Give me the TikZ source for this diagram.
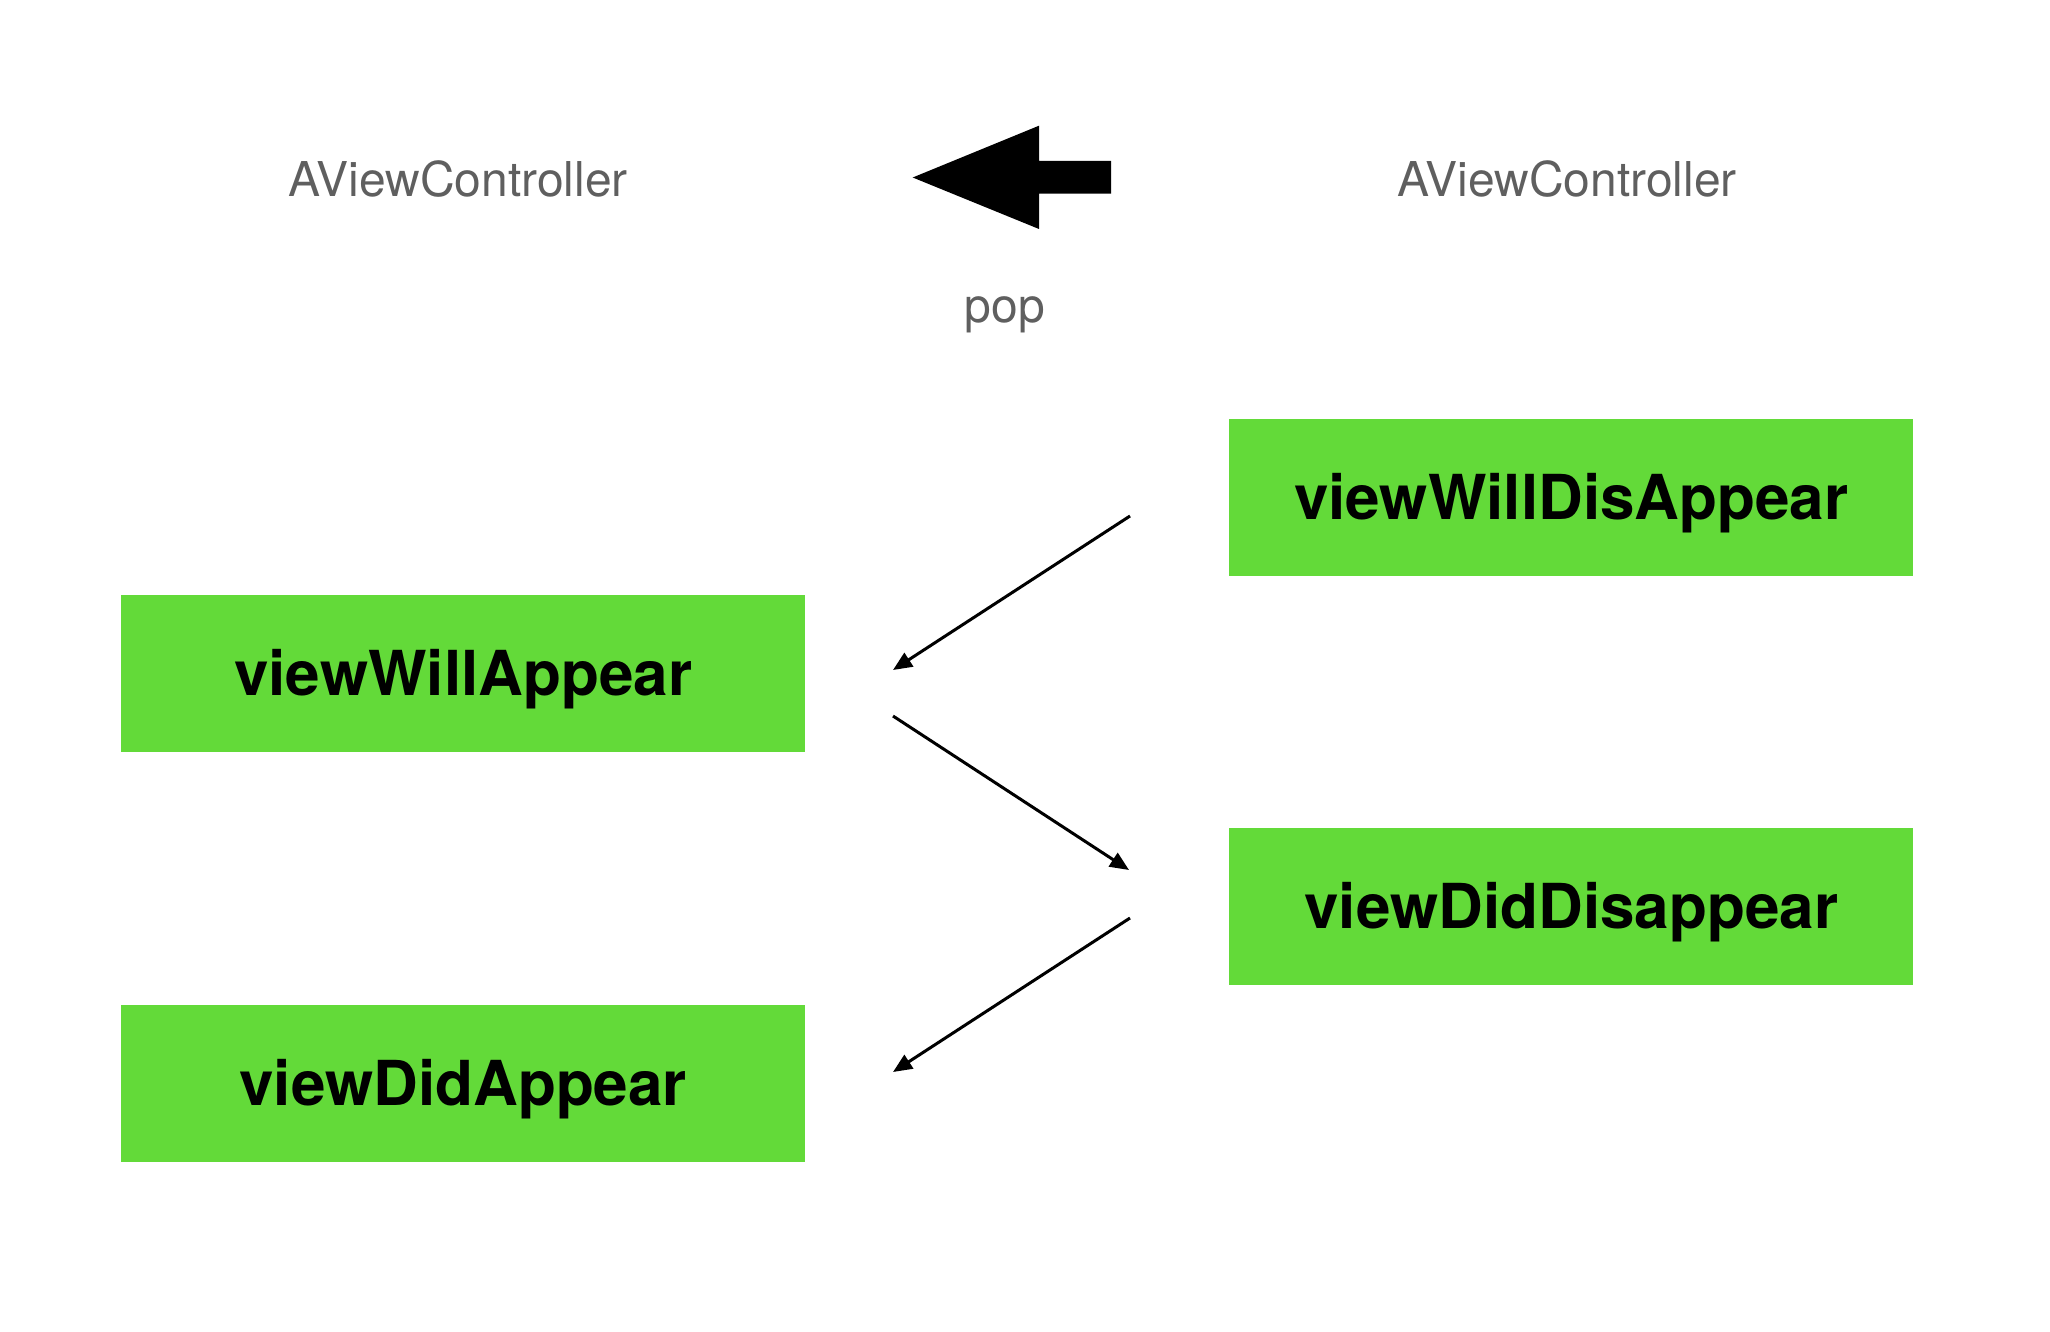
\documentclass[tikz,border=0pt]{standalone}
\usepackage{fontspec}
\setmainfont{TeX Gyre Heros}
\usetikzlibrary{arrows.meta}
\definecolor{boxgreen}{RGB}{99,218,57}
\definecolor{labelgray}{RGB}{95,95,95}
\tikzset{
  lifebox/.style={fill=boxgreen, draw=none, minimum width=684pt, minimum height=157pt,
    inner sep=0pt, text height=44pt, text depth=0pt, anchor=north west,
    font=\fontsize{62}{70}\selectfont\bfseries, text=black},
  vclabel/.style={anchor=base, text=labelgray, inner sep=0pt,
    font=\fontsize{48}{54}\selectfont},
  flow/.style={line width=3pt, -{Triangle[length=19pt,width=16pt]}}
}
\begin{document}
\begin{tikzpicture}[x=1pt,y=-1pt]
\useasboundingbox (0,0) rectangle (2050,1332);
% titles
\node[vclabel] (leftvc) at (458,197) {AViewController};
\node[vclabel] (rightvc) at (1567,197) {AViewController};
\node[vclabel] (pop) at (1005,323) {pop};
% big pop arrow
\fill[black] (912.7,177.5) -- (1039,125.7) -- (1039,161) -- (1111,161) -- (1111,193.7)
  -- (1039,193.7) -- (1039,229) -- cycle;
% boxes
\node[lifebox] (wda) at (1229,419) {viewWillDisAppear};
\node[lifebox] (wa) at (121,595) {viewWillAppear};
\node[lifebox] (dda) at (1229,828) {viewDidDisappear};
\node[lifebox] (da) at (121,1005) {viewDidAppear};
% connector ends
\coordinate (a1s) at (1130,516);
\coordinate (a1e) at (893,670);
\coordinate (a2s) at (893,716);
\coordinate (a2e) at (1129,870);
\coordinate (a3s) at (1130,918);
\coordinate (a3e) at (893,1072);
\draw[flow] (a1s) -- (a1e);
\draw[flow] (a2s) -- (a2e);
\draw[flow] (a3s) -- (a3e);
\end{tikzpicture}
\end{document}
